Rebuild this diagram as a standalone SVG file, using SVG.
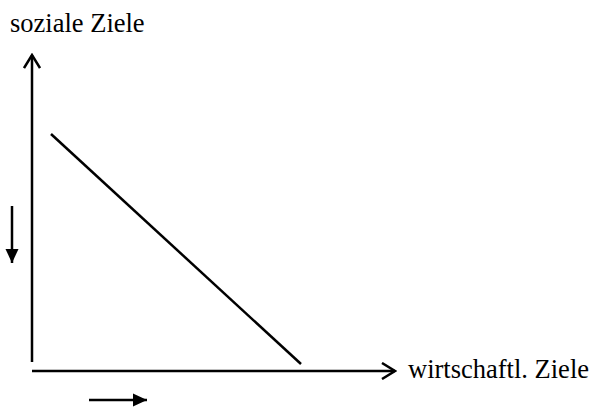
<svg xmlns="http://www.w3.org/2000/svg" width="594" height="407" viewBox="0 0 594 407">
<style>
.ln{stroke:#000;stroke-width:2.5;fill:none}
.t{font-family:"Liberation Serif","Times New Roman",serif;font-size:26.5px;fill:#000}
</style>
<defs>
<marker id="open" markerWidth="16" markerHeight="18" refX="14" refY="9" orient="auto" markerUnits="userSpaceOnUse">
<path d="M1,1 L14,9 L1,17" fill="none" stroke="#000" stroke-width="2.5"/>
</marker>
<marker id="fill" markerWidth="14" markerHeight="14" refX="14" refY="7" orient="auto" markerUnits="userSpaceOnUse">
<path d="M0,0.5 L14,7 L0,13.5 Z" fill="#000"/>
</marker>
</defs>
<g id="labels">
<text class="t" x="10" y="32">soziale Ziele</text>
<text class="t" x="408" y="378">wirtschaftl. Ziele</text>
</g>
<g id="connectors">
<line id="y-axis" class="ln" x1="32" y1="362" x2="32" y2="55" marker-end="url(#open)"/>
<line id="x-axis" class="ln" x1="32" y1="371" x2="395" y2="371" marker-end="url(#open)"/>
<line id="curve" class="ln" x1="51" y1="134" x2="301" y2="364"/>
<line id="down-arrow" class="ln" x1="12" y1="206" x2="12" y2="263" marker-end="url(#fill)"/>
<line id="right-arrow" class="ln" x1="89" y1="400" x2="147" y2="400" marker-end="url(#fill)"/>
</g>
</svg>
